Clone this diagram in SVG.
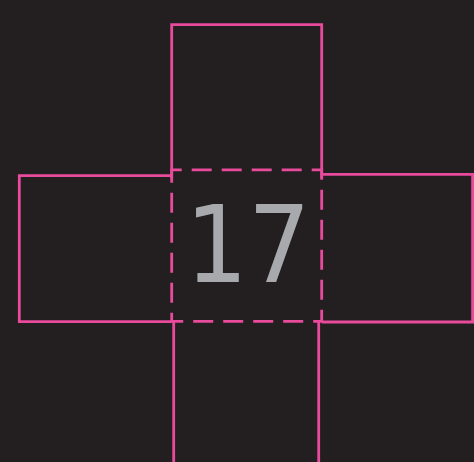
<svg xmlns="http://www.w3.org/2000/svg" width="474" height="462" viewBox="0 0 474 462">
<style>
.ln{fill:none;stroke:#e84a9c;stroke-width:2.8;stroke-linecap:butt;stroke-linejoin:miter}
.dash{stroke-dasharray:20 10;stroke-dashoffset:10}
.lbl{font-family:"DejaVu Sans","Open Sans",sans-serif;font-size:107px;fill:#a7a9ac}
</style>
<rect width="474" height="462" fill="#231f20"/>
<g id="top"><polyline class="ln" points="171.7,178.5 171.7,24.7 321.7,24.7 321.7,178.5"/></g>
<g id="left"><polyline class="ln" points="172,175.7 19.3,175.7 19.3,321.7 172,321.7"/></g>
<g id="right"><polyline class="ln" points="321.7,174.3 472.6,174.3 472.6,322 321.7,322"/></g>
<g id="bottom"><polyline class="ln" points="173.7,321.7 173.7,462"/><polyline class="ln" points="318.7,322 318.7,462"/></g>
<g id="center"><rect class="ln dash" x="171.7" y="169.8" width="150" height="151.5"/>
<text class="lbl" x="248" y="281.7" text-anchor="middle" transform="translate(248 0) scale(0.92 1) translate(-248 0)">17</text></g>
</svg>
